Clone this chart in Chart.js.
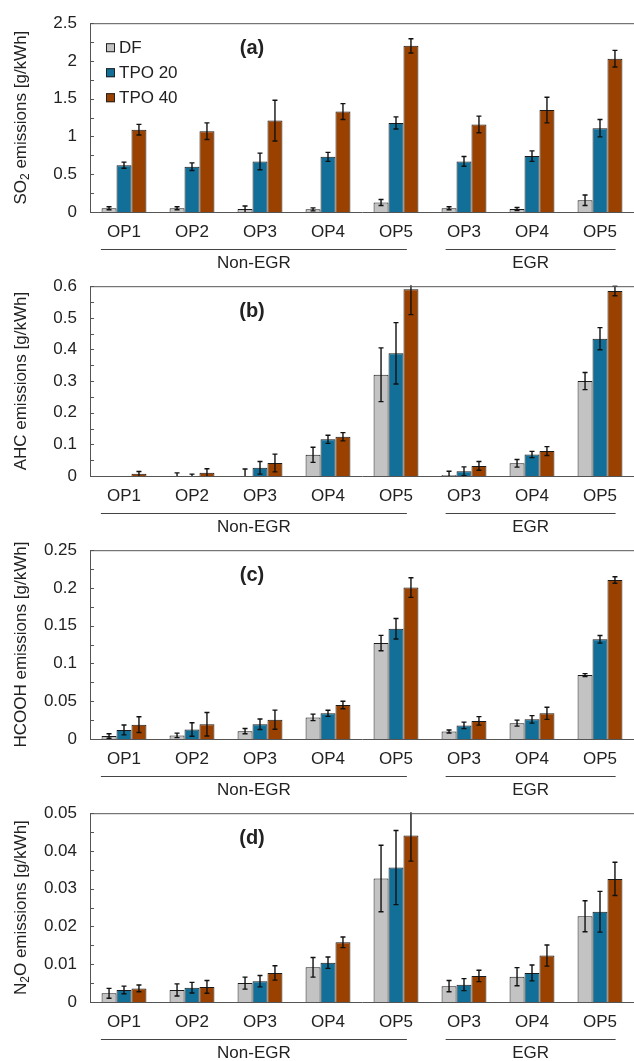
<!DOCTYPE html>
<html>
<head>
<meta charset="utf-8">
<script src="https://cdn.jsdelivr.net/npm/chart.js@4.4.1/dist/chart.umd.min.js"></script>
<style>
  body { margin: 0; background: #fff; }
  #wrap { position: relative; width: 634px; height: 1061px; overflow: hidden; }
  #wrap canvas { position: absolute; left: 0; }
</style>
</head>
<body>
<div id="wrap">
  <canvas id="c0"></canvas>
  <canvas id="c1"></canvas>
  <canvas id="c2"></canvas>
  <canvas id="c3"></canvas>
</div>
<script>
var Categories = ["OP1", "OP2", "OP3", "OP4", "OP5", "OP3", "OP4", "OP5"]
var Series_Names = ["DF", "TPO 20", "TPO 40"]
var Series_Colors = ["#c3c3c3", "#116f98", "#9b4100"]
var Groups = ["Non-EGR", "EGR"]

// (a) SO2
var SO2_DF = [0.05, 0.05, 0.04, 0.035, 0.126, 0.05, 0.04, 0.156]
var SO2_TPO20 = [0.62, 0.60, 0.67, 0.73, 1.18, 0.67, 0.74, 1.11]
var SO2_TPO40 = [1.09, 1.07, 1.21, 1.33, 2.20, 1.16, 1.35, 2.03]
var SO2_DF_err = [0.02, 0.02, 0.04, 0.02, 0.04, 0.02, 0.02, 0.07]
var SO2_TPO20_err = [0.04, 0.05, 0.11, 0.06, 0.08, 0.065, 0.07, 0.115]
var SO2_TPO40_err = [0.07, 0.11, 0.27, 0.105, 0.095, 0.11, 0.17, 0.11]

// (b) AHC
var AHC_DF = [0, 0, 0, 0.067, 0.32, 0.003, 0.04, 0.30]
var AHC_TPO20 = [0, 0, 0.026, 0.116, 0.388, 0.015, 0.068, 0.434]
var AHC_TPO40 = [0.007, 0.01, 0.041, 0.124, 0.59, 0.032, 0.079, 0.585]
var AHC_DF_err = [0, 0.01, 0.022, 0.024, 0.085, 0.012, 0.012, 0.027]
var AHC_TPO20_err = [0, 0.006, 0.02, 0.013, 0.097, 0.014, 0.01, 0.035]
var AHC_TPO40_err = [0.007, 0.013, 0.028, 0.013, 0.08, 0.014, 0.014, 0.015]

// (c) HCOOH
var HCOOH_DF = [0.004, 0.0048, 0.0104, 0.0286, 0.127, 0.01, 0.021, 0.0846]
var HCOOH_TPO20 = [0.012, 0.0126, 0.0195, 0.034, 0.146, 0.018, 0.026, 0.132]
var HCOOH_TPO40 = [0.019, 0.0195, 0.0256, 0.045, 0.2005, 0.024, 0.034, 0.2105]
var HCOOH_DF_err = [0.003, 0.003, 0.0035, 0.0043, 0.0102, 0.002, 0.004, 0.002]
var HCOOH_TPO20_err = [0.0065, 0.009, 0.007, 0.004, 0.0135, 0.0043, 0.005, 0.005]
var HCOOH_TPO40_err = [0.0104, 0.0156, 0.0126, 0.005, 0.013, 0.0056, 0.008, 0.0043]

// (d) N2O
var N2O_DF = [0.0023, 0.0032, 0.005, 0.0092, 0.0327, 0.0042, 0.0067, 0.0227]
var N2O_TPO20 = [0.0032, 0.0038, 0.0055, 0.0104, 0.0356, 0.0046, 0.0077, 0.0239]
var N2O_TPO40 = [0.0036, 0.004, 0.0077, 0.0158, 0.0441, 0.0069, 0.0123, 0.0326]
var N2O_DF_err = [0.0013, 0.0016, 0.0016, 0.0026, 0.0088, 0.0015, 0.0024, 0.0041]
var N2O_TPO20_err = [0.001, 0.0014, 0.0015, 0.0015, 0.0098, 0.0016, 0.0021, 0.0054]
var N2O_TPO40_err = [0.0009, 0.0017, 0.0019, 0.0014, 0.0068, 0.0015, 0.0028, 0.0044]

var Panels = [
  {id: "c0", tag: "(a)", title: ["SO", "2", " emissions [g/kWh]"], max: 2.5, major: 0.5, minor: 0.25, top: 20, bottom: 212, legend: true,
   data: [SO2_DF, SO2_TPO20, SO2_TPO40], err: [SO2_DF_err, SO2_TPO20_err, SO2_TPO40_err]},
  {id: "c1", tag: "(b)", title: ["AHC emissions [g/kWh]"], max: 0.6, major: 0.1, minor: 0.05, top: 283, bottom: 476,
   data: [AHC_DF, AHC_TPO20, AHC_TPO40], err: [AHC_DF_err, AHC_TPO20_err, AHC_TPO40_err]},
  {id: "c2", tag: "(c)", title: ["HCOOH emissions [g/kWh]"], max: 0.25, major: 0.05, minor: 0.025, top: 547, bottom: 739,
   data: [HCOOH_DF, HCOOH_TPO20, HCOOH_TPO40], err: [HCOOH_DF_err, HCOOH_TPO20_err, HCOOH_TPO40_err]},
  {id: "c3", tag: "(d)", title: ["N", "2", "O emissions [g/kWh]"], max: 0.05, major: 0.01, minor: 0.005, top: 810, bottom: 1002,
   data: [N2O_DF, N2O_TPO20, N2O_TPO40], err: [N2O_DF_err, N2O_TPO20_err, N2O_TPO40_err]}
]

var FONT = "'Liberation Sans', Arial, sans-serif"
var TEXT = "#222"
var AXIS = "#555"
var PAD_TOP = 20, X_AREA = 62

// error bars, frame, inner ticks, panel tag, legend, group underlines, y title
var Panel_Decor = {
  id: "panelDecor",
  afterDatasetsDraw: function(chart){
    var ctx = chart.ctx, a = chart.chartArea, p = chart.options.plugins.panelDecor.panel
    var xs = chart.scales.x, ys = chart.scales.y
    ctx.save()
    // error bars
    ctx.beginPath()
    ctx.rect(a.left, a.top - 1, a.right - a.left, a.bottom - a.top + 1)
    ctx.clip()
    ctx.strokeStyle = "#111"
    ctx.lineWidth = 1.4
    for (var d = 0; d < chart.data.datasets.length; d++){
      var meta = chart.getDatasetMeta(d), errs = p.err[d], vals = p.data[d]
      for (var i = 0; i < meta.data.length; i++){
        if (!errs[i]) continue
        var bx = meta.data[i].x
        var y1 = ys.getPixelForValue(vals[i] + errs[i])
        var y2 = ys.getPixelForValue(Math.max(vals[i] - errs[i], 0))
        ctx.beginPath()
        ctx.moveTo(bx, y1); ctx.lineTo(bx, y2)
        ctx.moveTo(bx - 2.5, y1); ctx.lineTo(bx + 2.5, y1)
        if (vals[i] - errs[i] > 0){ ctx.moveTo(bx - 2.5, y2); ctx.lineTo(bx + 2.5, y2) }
        ctx.stroke()
      }
    }
    ctx.restore()
    ctx.save()
    // frame top line and inner ticks
    ctx.strokeStyle = AXIS
    ctx.lineWidth = 1
    ctx.beginPath()
    ctx.moveTo(a.left, a.top + 0.5); ctx.lineTo(a.right, a.top + 0.5)
    ys.ticks.forEach(function(t){
      var y = Math.round(ys.getPixelForValue(t.value)) + 0.5
      ctx.moveTo(a.left, y); ctx.lineTo(a.left + 4, y)
    })
    ctx.stroke()
    // panel tag
    ctx.fillStyle = TEXT
    ctx.font = "bold 20px " + FONT
    ctx.textAlign = "center"
    ctx.textBaseline = "middle"
    ctx.fillText(p.tag, 252, a.top + 25)
    // legend
    if (p.legend){
      ctx.font = "17px " + FONT
      ctx.textAlign = "left"
      for (var k = 0; k < Series_Names.length; k++){
        var ly = a.top + 24 + k * 25
        ctx.fillStyle = Series_Colors[k]
        ctx.fillRect(106, ly - 4, 9, 9)
        ctx.strokeStyle = "#222"
        ctx.strokeRect(106.5, ly - 3.5, 8, 8)
        ctx.fillStyle = TEXT
        ctx.fillText(Series_Names[k], 119, ly + 1)
      }
    }
    // group underlines and labels
    var w = xs.getPixelForValue(1) - xs.getPixelForValue(0)
    var spans = [[0, 4, -0.34, 0.16], [5, 7, -0.27, 0.23]]
    ctx.strokeStyle = "#444"
    ctx.fillStyle = TEXT
    ctx.font = "17px " + FONT
    ctx.textAlign = "center"
    for (var g = 0; g < spans.length; g++){
      var s = spans[g]
      var x1 = xs.getPixelForValue(s[0]) + s[2] * w
      var x2 = xs.getPixelForValue(s[1]) + s[3] * w
      var uy = a.bottom + 37.5
      ctx.beginPath(); ctx.moveTo(x1, uy); ctx.lineTo(x2, uy); ctx.stroke()
      ctx.fillText(Groups[g], (x1 + x2) / 2, a.bottom + 51)
    }
    // y title with subscript
    ctx.translate(21, (a.top + a.bottom) / 2)
    ctx.rotate(-Math.PI / 2)
    var parts = p.title, widths = [], total = 0
    for (var j = 0; j < parts.length; j++){
      ctx.font = (parts.length == 3 && j == 1 ? "12px " : "17px ") + FONT
      widths.push(ctx.measureText(parts[j]).width); total += widths[j]
    }
    var px = -total / 2
    ctx.textAlign = "left"
    for (var j = 0; j < parts.length; j++){
      var sub = parts.length == 3 && j == 1
      ctx.font = (sub ? "12px " : "17px ") + FONT
      ctx.fillText(parts[j], px, sub ? 5 : 0)
      px += widths[j]
    }
    ctx.restore()
  }
}

function Make_Panel(p){
  var cv = document.getElementById(p.id)
  var h = PAD_TOP + (p.bottom - p.top) + X_AREA
  cv.style.top = (p.top - PAD_TOP) + "px"
  cv.width = 634; cv.height = h
  cv.style.width = "634px"; cv.style.height = h + "px"
  var Dataset = []
  for (var i = 0; i < Series_Names.length; i++){
    Dataset.push({
      label: Series_Names[i],
      data: p.data[i],
      backgroundColor: Series_Colors[i],
      borderColor: "#1a1a1a",
      borderWidth: 1,
      categoryPercentage: 0.66,
      barPercentage: 1.0
    })
  }
  return new Chart(cv.getContext("2d"), {
    type: "bar",
    data: { labels: Categories, datasets: Dataset },
    plugins: [Panel_Decor],
    options: {
      responsive: false,
      animation: false,
      layout: { padding: { top: PAD_TOP, right: 0, left: 0, bottom: 0 } },
      plugins: {
        legend: { display: false },
        tooltip: { enabled: false },
        panelDecor: { panel: p }
      },
      scales: {
        x: {
          grid: { display: false, drawTicks: false },
          border: { color: AXIS, width: 1 },
          ticks: { color: TEXT, font: { family: FONT, size: 17 }, padding: 10, maxRotation: 0 },
          afterFit: function(s){ s.height = X_AREA }
        },
        y: {
          min: 0, max: p.max,
          grid: { display: false, drawTicks: false },
          border: { color: AXIS, width: 1 },
          ticks: {
            stepSize: p.minor,
            autoSkip: false,
            color: TEXT,
            font: { family: FONT, size: 17 },
            padding: 13,
            callback: function(v){
              var r = v / p.major
              if (Math.abs(r - Math.round(r)) > 1e-6) return ""
              return String(parseFloat(v.toFixed(4)))
            }
          },
          afterFit: function(s){ s.width = 90 }
        }
      }
    }
  })
}

var ChartObjects = []
for (var i = 0; i < Panels.length; i++){
  ChartObjects.push(Make_Panel(Panels[i]))
}
</script>
</body>
</html>
